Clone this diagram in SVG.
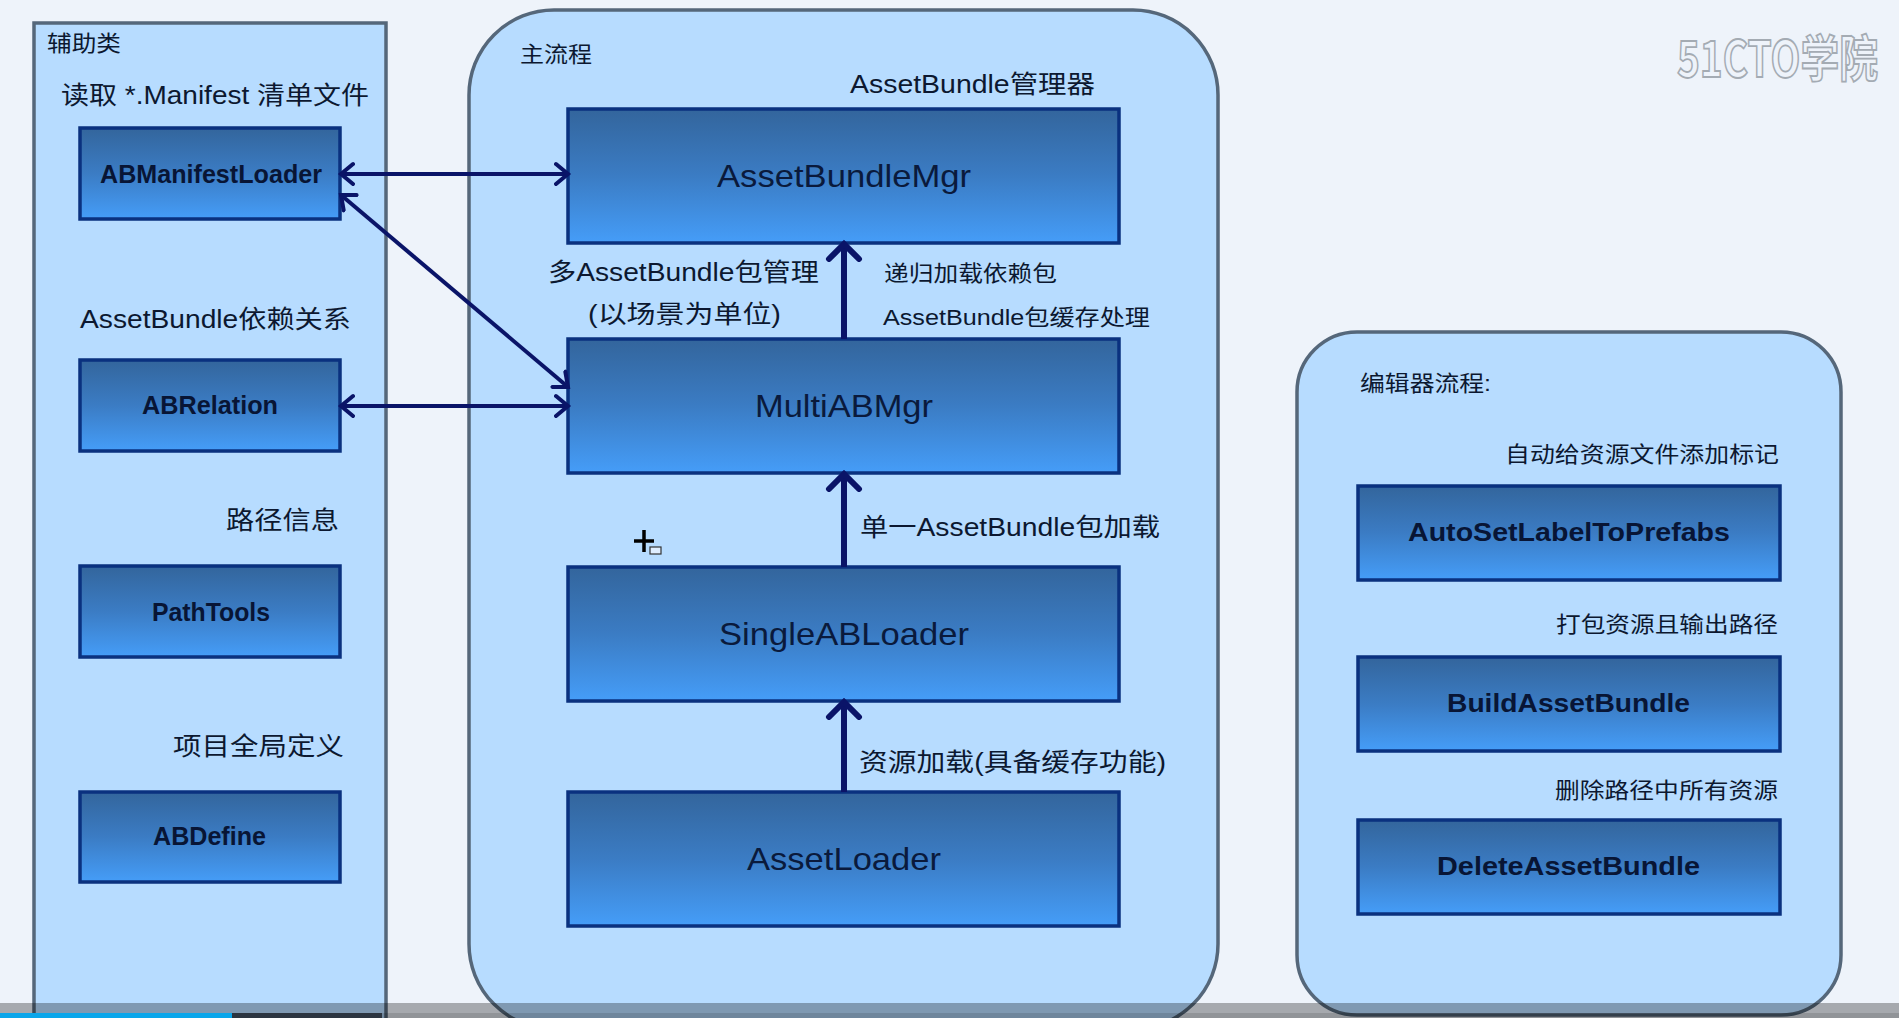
<svg xmlns="http://www.w3.org/2000/svg" width="1899" height="1018" viewBox="0 0 1899 1018">
<style>
.panel{fill:#b7dcff;stroke:#55677a;stroke-width:3.5}
.box{fill:url(#boxGrad);stroke:#0a317f;stroke-width:3.5}
text{font-family:"Liberation Sans","Noto Sans CJK SC",sans-serif;fill:#0c1830}
.cn{font-size:25px}.cs{font-size:22px}
.nb{font-size:25px;font-weight:bold;fill:#081535}
.nl{font-size:32px;fill:#0a1a3c}
.conn{fill:none;stroke:#0a1468}
.thin{stroke-width:4;marker-start:url(#open);marker-end:url(#open)}
.thick{stroke-width:6;marker-end:url(#openBig)}
</style>
<defs>
<linearGradient id="boxGrad" x1="0" y1="0" x2="0" y2="1"><stop offset="0" stop-color="#33659c"/><stop offset=".5" stop-color="#3b7cc4"/><stop offset="1" stop-color="#459df8"/></linearGradient>
<marker id="open" markerUnits="userSpaceOnUse" markerWidth="20" markerHeight="28" refX="14" refY="12" orient="auto-start-reverse" viewBox="0 0 20 24"><path d="M2 2 14 12 2 22" fill="none" stroke="#0a1468" stroke-width="4" stroke-linecap="round"/></marker>
<marker id="openBig" markerUnits="userSpaceOnUse" markerWidth="24" markerHeight="40" refX="18" refY="18" orient="auto" viewBox="0 0 24 36"><path d="M3 3 18 18 3 33" fill="none" stroke="#0a1468" stroke-width="6" stroke-linecap="round"/></marker>
</defs>
<rect width="1899" height="1018" fill="#eef3fa"/>
<g id="panel-helper"><rect class="panel" x="34" y="23" width="352" height="1030"/>
<text class="cs" x="47" y="51" textLength="74" lengthAdjust="spacingAndGlyphs">辅助类</text></g>
<g id="panel-main"><rect class="panel" x="469" y="10" width="749" height="1019" rx="85" ry="85"/>
<text class="cs" x="520" y="62" textLength="72" lengthAdjust="spacingAndGlyphs">主流程</text></g>
<g id="panel-editor"><rect class="panel" x="1297" y="332" width="544" height="683" rx="60" ry="60"/>
<text class="cs" x="1360" y="391" textLength="131" lengthAdjust="spacingAndGlyphs">编辑器流程:</text></g>
<g id="labels">
<text class="cn" x="61" y="104" textLength="308" lengthAdjust="spacingAndGlyphs">读取 *.Manifest 清单文件</text>
<text class="cn" x="80" y="328" textLength="271" lengthAdjust="spacingAndGlyphs">AssetBundle依赖关系</text>
<text class="cn" x="226" y="529" textLength="113" lengthAdjust="spacingAndGlyphs">路径信息</text>
<text class="cn" x="173" y="755" textLength="171" lengthAdjust="spacingAndGlyphs">项目全局定义</text>
<text class="cn" x="850" y="93" textLength="245" lengthAdjust="spacingAndGlyphs">AssetBundle管理器</text>
<text class="cn" x="548" y="281" textLength="271" lengthAdjust="spacingAndGlyphs">多AssetBundle包管理</text>
<text class="cn" x="588" y="323" textLength="193" lengthAdjust="spacingAndGlyphs">(以场景为单位)</text>
<text class="cs" x="884" y="281" textLength="173" lengthAdjust="spacingAndGlyphs">递归加载依赖包</text>
<text class="cs" x="883" y="325" textLength="267" lengthAdjust="spacingAndGlyphs">AssetBundle包缓存处理</text>
<text class="cn" x="860" y="536" textLength="300" lengthAdjust="spacingAndGlyphs">单一AssetBundle包加载</text>
<text class="cn" x="859" y="771" textLength="307" lengthAdjust="spacingAndGlyphs">资源加载(具备缓存功能)</text>
<text class="cs" x="1505" y="462" textLength="274" lengthAdjust="spacingAndGlyphs">自动给资源文件添加标记</text>
<text class="cs" x="1556" y="632" textLength="222" lengthAdjust="spacingAndGlyphs">打包资源且输出路径</text>
<text class="cs" x="1555" y="798" textLength="223" lengthAdjust="spacingAndGlyphs">删除路径中所有资源</text>
</g>
<g id="node-ABManifestLoader"><rect class="box" x="80" y="128" width="260" height="91"/><text class="nb" x="100" y="183" textLength="222" lengthAdjust="spacingAndGlyphs">ABManifestLoader</text></g>
<g id="node-ABRelation"><rect class="box" x="80" y="360" width="260" height="91"/><text class="nb" x="142" y="414" textLength="136" lengthAdjust="spacingAndGlyphs">ABRelation</text></g>
<g id="node-PathTools"><rect class="box" x="80" y="566" width="260" height="91"/><text class="nb" x="152" y="621" textLength="118" lengthAdjust="spacingAndGlyphs">PathTools</text></g>
<g id="node-ABDefine"><rect class="box" x="80" y="792" width="260" height="90"/><text class="nb" x="153" y="845" textLength="113" lengthAdjust="spacingAndGlyphs">ABDefine</text></g>
<g id="node-AssetBundleMgr"><rect class="box" x="568" y="109" width="551" height="134"/><text class="nl" x="717" y="187" textLength="254" lengthAdjust="spacingAndGlyphs">AssetBundleMgr</text></g>
<g id="node-MultiABMgr"><rect class="box" x="568" y="339" width="551" height="134"/><text class="nl" x="755" y="417" textLength="178" lengthAdjust="spacingAndGlyphs">MultiABMgr</text></g>
<g id="node-SingleABLoader"><rect class="box" x="568" y="567" width="551" height="134"/><text class="nl" x="719" y="645" textLength="250" lengthAdjust="spacingAndGlyphs">SingleABLoader</text></g>
<g id="node-AssetLoader"><rect class="box" x="568" y="792" width="551" height="134"/><text class="nl" x="747" y="870" textLength="194" lengthAdjust="spacingAndGlyphs">AssetLoader</text></g>
<g id="node-AutoSetLabelToPrefabs"><rect class="box" x="1358" y="486" width="422" height="94"/><text class="nb" x="1408" y="541" textLength="322" lengthAdjust="spacingAndGlyphs">AutoSetLabelToPrefabs</text></g>
<g id="node-BuildAssetBundle"><rect class="box" x="1358" y="657" width="422" height="94"/><text class="nb" x="1447" y="712" textLength="243" lengthAdjust="spacingAndGlyphs">BuildAssetBundle</text></g>
<g id="node-DeleteAssetBundle"><rect class="box" x="1358" y="820" width="422" height="94"/><text class="nb" x="1437" y="875" textLength="263" lengthAdjust="spacingAndGlyphs">DeleteAssetBundle</text></g>
<g id="connectors">
<path class="conn thin" d="M341 174H568"/>
<path class="conn thin" d="M341 195 568 387"/>
<path class="conn thin" d="M341 406H568"/>
<path class="conn thick" d="M844 339V244"/>
<path class="conn thick" d="M844 567V474"/>
<path class="conn thick" d="M844 792V702"/>
</g>
<g id="cursor" fill="none"><path d="M644 530V552M634 541H654" stroke="#000" stroke-width="3.5"/><rect x="650" y="547" width="11" height="7" stroke="#333" stroke-width="1.2" fill="#dfeeff"/></g>
<g id="watermark"><text transform="translate(1677 77) scale(.82 1)" font-size="50" font-weight="bold" textLength="245" lengthAdjust="spacingAndGlyphs" style="font-family:'Noto Sans CJK SC',sans-serif;fill:#eef3fa;stroke:#a4abb3;stroke-width:1.8">51CTO学院</text></g>
<g id="playbar">
<rect x="0" y="1003" width="1899" height="15" fill="#000" opacity=".3"/>
<rect x="0" y="1013" width="232" height="5" fill="#0aa6ea"/>
<rect x="232" y="1013" width="150" height="5" fill="#2c3540"/>
<rect x="382" y="1013" width="1517" height="5" fill="#000" opacity=".12"/>
</g>
</svg>
